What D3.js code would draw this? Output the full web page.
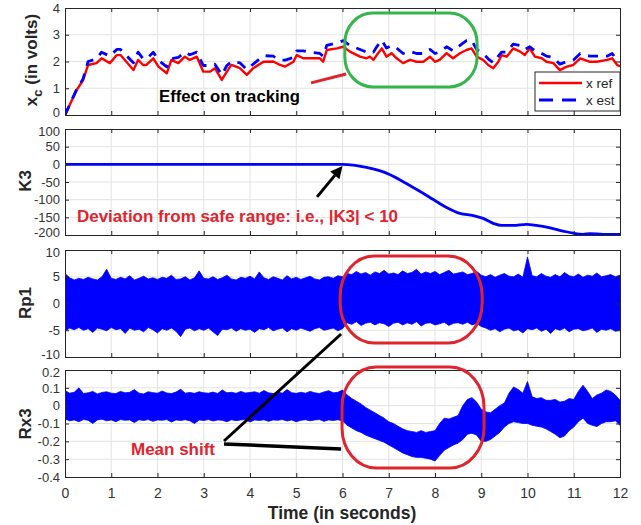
<!DOCTYPE html>
<html>
<head>
<meta charset="utf-8">
<script src="https://cdn.jsdelivr.net/npm/d3@7"></script>
<style>
body { margin: 0; background: #fff; }
svg { display: block; }
text { font-family: "Liberation Sans", Arial, sans-serif; }
</style>
</head>
<body>
<svg id="chart" width="641" height="525"></svg>
<script>
// ---- data ----
const timeTicks = [0, 1, 2, 3, 4, 5, 6, 7, 8, 9, 10, 11, 12];
const xcTicks = [0, 1, 2, 3, 4];
const k3Ticks = [-200, -150, -100, -50, 0, 50, 100];
const rp1Ticks = [-10, -5, 0, 5, 10];
const rx3Ticks = [-0.4, -0.3, -0.2, -0.1, 0, 0.1, 0.2];

// x ref [t, volts]
const xRef = [[0,0],[0.25,0.93],[0.39,1.3],[0.5,1.87],[0.68,1.94],[0.79,2.12],[0.97,1.94],[1.12,2.24],[1.2,2.24],
  [1.48,1.68],[1.58,2.06],[1.69,1.87],[1.76,1.87],[1.91,2.12],[2.02,1.81],[2.2,1.56],[2.3,2.06],[2.45,1.94],
  [2.59,2.18],[2.7,2.06],[2.85,2.18],[2.99,1.62],[3.14,1.62],[3.24,1.75],[3.39,1.31],[3.5,1.62],[3.57,1.81],
  [3.6,1.87],[3.78,1.75],[3.93,1.5],[4.07,1.75],[4.29,1.99],[4.5,2.0],[4.65,1.87],[4.76,1.81],[4.94,1.99],
  [5.01,2.24],[5.15,2.12],[5.3,2.12],[5.51,2.12],[5.58,1.99],[5.66,2.43],[5.88,2.49],[6.02,2.55],[6.16,2.37],
  [6.38,2.18],[6.52,2.12],[6.59,2.18],[6.67,2.06],[6.74,2.24],[6.85,2.49],[6.95,2.18],[7.06,2.31],[7.17,2.12],
  [7.31,1.94],[7.46,2.06],[7.6,1.99],[7.75,1.99],[7.89,2.18],[8.0,1.99],[8.1,2.06],[8.25,2.31],[8.39,2.12],
  [8.54,2.31],[8.68,2.43],[8.79,2.49],[8.9,2.18],[9.04,2.06],[9.15,1.87],[9.26,1.75],[9.37,1.99],[9.44,2.24],
  [9.55,2.18],[9.69,2.49],[9.84,2.37],[9.94,2.24],[10.05,2.49],[10.16,2.18],[10.31,2.12],[10.41,1.99],
  [10.56,1.94],[10.7,1.68],[10.85,1.81],[10.99,1.87],[11.14,2.12],[11.35,1.99],[11.5,1.99],[11.72,2.06],
  [11.83,2.12],[11.94,1.87],[12,1.81]];

// x est [t, volts]
const xEst = [[0,0],[0.25,0.95],[0.39,1.35],[0.5,2.0],[0.68,2.1],[0.79,2.35],[0.97,2.2],[1.12,2.45],[1.2,2.45],
  [1.48,1.95],[1.58,2.35],[1.69,2.1],[1.76,2.1],[1.91,2.35],[2.02,2.05],[2.2,1.8],[2.3,2.1],[2.45,2.15],
  [2.59,2.35],[2.7,2.25],[2.85,2.35],[2.99,1.85],[3.14,1.85],[3.24,1.9],[3.39,1.5],[3.5,1.85],[3.57,1.95],
  [3.6,2.0],[3.78,1.95],[3.93,1.7],[4.07,1.9],[4.29,2.22],[4.5,2.2],[4.65,2.05],[4.76,2.05],[4.94,2.15],
  [5.01,2.4],[5.15,2.4],[5.3,2.35],[5.51,2.3],[5.58,2.2],[5.66,2.6],[5.88,2.7],[6.02,2.78],[6.16,2.6],
  [6.38,2.45],[6.52,2.35],[6.59,2.4],[6.67,2.35],[6.74,2.55],[6.85,2.8],[6.95,2.5],[7.06,2.6],[7.17,2.5],
  [7.31,2.3],[7.46,2.38],[7.6,2.3],[7.75,2.3],[7.89,2.45],[8.0,2.3],[8.1,2.35],[8.25,2.55],[8.39,2.4],
  [8.54,2.6],[8.68,2.78],[8.79,2.8],[8.9,2.45],[9.04,2.3],[9.15,2.1],[9.26,1.95],[9.37,2.2],[9.44,2.35],
  [9.55,2.35],[9.69,2.65],[9.84,2.6],[9.94,2.45],[10.05,2.55],[10.16,2.4],[10.31,2.3],[10.41,2.2],
  [10.56,2.15],[10.7,1.9],[10.85,2.0],[10.99,2.05],[11.14,2.3],[11.35,2.2],[11.5,2.2],[11.72,2.2],
  [11.83,2.3],[11.94,2.05],[12,2.0]];

// K3 [t, value]
const k3 = [[0,0],[6.0,0],[6.23,-2],[6.59,-11],[6.95,-25],[7.31,-49],[7.68,-77],[8.04,-106],[8.25,-122],
  [8.54,-139],[8.83,-145],[9.04,-153],[9.26,-167],[9.44,-173],[9.69,-173],[9.98,-170],[10.19,-173],
  [10.49,-180],[10.77,-189],[10.99,-195],[11.2,-198],[11.35,-196],[11.63,-198],[12,-198]];

// residual envelopes, one value per 0.1 s from 0 to 12 s
const bandTimes = d3.range(121).map(i => i / 10);
const rp1Hi = [5.6,4.8,4.4,4.7,4.5,4.9,4.6,4.4,5.0,6.4,4.7,
  4.5,4.9,4.6,5.2,4.4,4.7,5.1,4.6,4.8,4.5,
  4.9,4.7,5.3,4.5,4.6,5.0,4.4,4.8,6.1,4.7,
  4.6,5.0,4.5,4.8,5.3,4.6,4.4,4.9,4.7,5.1,
  4.6,5.9,4.8,4.5,5.0,4.7,4.4,5.2,4.6,4.9,
  4.5,4.8,5.1,4.6,4.4,4.9,5.0,4.7,5.2,5.0,
  5.6,5.4,6.0,5.5,5.8,5.3,5.9,5.6,6.2,5.5,
  5.7,5.4,6.1,5.6,5.8,6.4,5.5,5.9,5.6,6.0,
  5.4,5.8,6.2,5.5,5.7,5.9,5.4,5.6,6.0,5.3,
  5.0,5.4,4.9,5.3,5.6,5.1,5.0,5.5,4.9,8.7,
  5.2,5.0,5.6,5.1,4.9,5.4,5.0,5.8,5.2,5.0,
  5.5,4.9,5.3,5.1,5.7,5.0,5.2,5.4,5.0,5.3];
const rp1Lo = [-5.2,-4.6,-4.9,-4.5,-5.0,-4.7,-5.4,-4.6,-4.8,-5.1,-4.5,
  -4.9,-4.7,-5.6,-4.6,-5.0,-4.8,-5.3,-4.5,-4.9,-5.5,
  -4.7,-5.0,-4.6,-5.2,-6.2,-4.8,-4.6,-5.1,-4.7,-5.0,
  -4.6,-5.3,-6.0,-4.8,-4.9,-4.6,-5.2,-4.7,-5.0,-4.8,
  -5.4,-4.7,-4.9,-4.5,-5.1,-4.8,-4.6,-5.3,-4.7,-5.0,
  -4.6,-4.9,-5.2,-4.7,-4.5,-5.0,-4.8,-4.6,-5.1,-4.7,
  -3.6,-3.9,-3.4,-4.1,-3.7,-3.5,-4.0,-3.6,-3.8,-4.3,
  -3.7,-3.5,-4.0,-3.6,-3.9,-3.4,-4.2,-3.7,-3.6,-4.0,
  -3.8,-3.5,-4.1,-3.7,-3.6,-3.9,-3.5,-4.0,-3.7,-4.3,
  -4.6,-5.0,-4.7,-5.3,-4.8,-4.6,-5.1,-4.9,-5.5,-4.7,
  -4.9,-4.6,-5.2,-4.8,-5.6,-4.7,-5.0,-4.6,-5.3,-4.8,
  -4.7,-5.1,-4.9,-4.6,-5.4,-4.8,-5.0,-4.7,-5.2,-4.9];
const rx3Hi = [0.085,0.07,0.075,0.1,0.068,0.072,0.08,0.066,0.074,0.078,0.07,
  0.068,0.08,0.072,0.075,0.09,0.07,0.066,0.078,0.073,0.07,
  0.082,0.071,0.068,0.076,0.092,0.07,0.074,0.069,0.078,0.072,
  0.07,0.076,0.068,0.088,0.072,0.075,0.069,0.08,0.071,0.074,
  0.078,0.07,0.085,0.072,0.068,0.076,0.07,0.09,0.073,0.069,
  0.075,0.07,0.08,0.072,0.068,0.077,0.084,0.072,0.075,0.088,
  0.06,0.04,0.025,0.01,-0.01,-0.025,-0.04,-0.055,-0.07,-0.09,
  -0.1,-0.115,-0.13,-0.14,-0.145,-0.15,-0.14,-0.15,-0.145,-0.14,
  -0.1,-0.07,-0.075,-0.065,-0.055,0.0,0.035,0.045,0.02,-0.02,
  -0.035,-0.04,-0.02,0.0,0.015,0.07,0.105,0.09,0.07,0.135,
  0.05,0.04,0.045,0.03,0.03,0.035,0.02,0.025,0.04,0.035,
  0.08,0.115,0.08,0.04,0.06,0.07,0.088,0.08,0.06,0.03];
const rx3Lo = [-0.075,-0.085,-0.08,-0.09,-0.078,-0.082,-0.1,-0.08,-0.076,-0.085,-0.08,
  -0.09,-0.078,-0.082,-0.08,-0.095,-0.079,-0.083,-0.078,-0.088,-0.08,
  -0.082,-0.078,-0.092,-0.08,-0.083,-0.079,-0.085,-0.1,-0.08,-0.083,
  -0.078,-0.086,-0.08,-0.082,-0.09,-0.079,-0.084,-0.08,-0.078,-0.092,
  -0.08,-0.083,-0.079,-0.088,-0.08,-0.082,-0.078,-0.086,-0.08,-0.09,
  -0.082,-0.079,-0.085,-0.08,-0.078,-0.088,-0.08,-0.083,-0.079,-0.085,
  -0.11,-0.125,-0.14,-0.15,-0.165,-0.175,-0.185,-0.195,-0.205,-0.22,
  -0.235,-0.25,-0.265,-0.275,-0.285,-0.29,-0.29,-0.295,-0.3,-0.31,
  -0.28,-0.25,-0.235,-0.22,-0.21,-0.19,-0.16,-0.155,-0.165,-0.2,
  -0.2,-0.19,-0.17,-0.15,-0.12,-0.1,-0.09,-0.095,-0.1,-0.1,
  -0.11,-0.115,-0.12,-0.13,-0.145,-0.16,-0.18,-0.17,-0.14,-0.12,
  -0.09,-0.07,-0.1,-0.11,-0.117,-0.1,-0.09,-0.09,-0.085,-0.11];

// ---- layout ----
const svg = d3.select('#chart');
const axisColor = '#262626';
const gridColor = '#e3e3e3';
const blue = '#0000ff';
const red = '#ff0000';
const annRed = '#e0242e';
const left = 65, right = 620;

const x = d3.scaleLinear().domain([0, 12]).range([left, right]);

const panels = [
  { id: 'xc', top: 8, bottom: 115, domain: [0, 4], ticks: xcTicks },
  { id: 'k3', top: 129, bottom: 235, domain: [-200, 100], ticks: k3Ticks },
  { id: 'rp1', top: 250, bottom: 357, domain: [-10, 10], ticks: rp1Ticks },
  { id: 'rx3', top: 370, bottom: 477, domain: [-0.4, 0.2], ticks: rx3Ticks }
];
panels.forEach(p => { p.y = d3.scaleLinear().domain(p.domain).range([p.bottom, p.top]); });

const fmt = d => String(Math.round(d * 10) / 10);

svg.append('rect').attr('width', 641).attr('height', 525).attr('fill', '#fff');
const defs = svg.append('defs');

panels.forEach((p, i) => {
  const g = svg.append('g').attr('class', 'panel_' + p.id);
  defs.append('clipPath').attr('id', 'clip_' + p.id)
    .append('rect').attr('x', left).attr('y', p.top).attr('width', right - left).attr('height', p.bottom - p.top);

  // grid
  const grid = g.append('g').attr('stroke', gridColor).attr('stroke-width', 1);
  grid.selectAll('.vg').data(timeTicks.slice(1, -1)).join('line')
    .attr('x1', d => x(d)).attr('x2', d => x(d)).attr('y1', p.top).attr('y2', p.bottom);
  grid.selectAll('.hg').data(p.ticks.slice(1, -1)).join('line')
    .attr('x1', left).attr('x2', right).attr('y1', d => p.y(d)).attr('y2', d => p.y(d));

  p.plot = g.append('g').attr('clip-path', 'url(#clip_' + p.id + ')');
  p.g = g;
});

// panel 1: x ref / x est
{
  const p = panels[0];
  const line = d3.line().x(d => x(d[0])).y(d => p.y(d[1]));
  p.plot.append('path').datum(xRef).attr('d', line)
    .attr('fill', 'none').attr('stroke', red).attr('stroke-width', 2.4).attr('stroke-linejoin', 'round');
  p.plot.append('path').datum(xEst).attr('d', line)
    .attr('fill', 'none').attr('stroke', blue).attr('stroke-width', 2.8)
    .attr('stroke-dasharray', '10,8').attr('stroke-linejoin', 'round');
}

// panel 2: K3
{
  const p = panels[1];
  const line = d3.line().x(d => x(d[0])).y(d => p.y(d[1])).curve(d3.curveMonotoneX);
  p.plot.append('path').datum(k3).attr('d', line)
    .attr('fill', 'none').attr('stroke', blue).attr('stroke-width', 2.8);
}

// panels 3 and 4: residual bands
[[panels[2], rp1Hi, rp1Lo], [panels[3], rx3Hi, rx3Lo]].forEach(([p, hi, lo]) => {
  const rows = bandTimes.map((t, i) => ({ t, hi: hi[i], lo: lo[i] }));
  const area = d3.area().x(d => x(d.t)).y0(d => p.y(d.lo)).y1(d => p.y(d.hi));
  p.plot.append('path').datum(rows).attr('d', area)
    .attr('fill', blue).attr('stroke', blue).attr('stroke-width', 0.8);
});

// axes boxes with inward ticks
panels.forEach((p, i) => {
  const isLast = i === panels.length - 1;
  const ax = p.g.append('g').attr('color', axisColor);
  const yl = ax.append('g').attr('transform', `translate(${left},0)`)
    .call(d3.axisLeft(p.y).tickValues(p.ticks).tickSize(-4).tickPadding(5).tickFormat(fmt));
  yl.selectAll('text').attr('font-size', 13).attr('font-family', '"Liberation Sans", Arial, sans-serif').attr('fill', '#333');
  // keep the stacked end labels of neighbouring panels from colliding
  const [lo, hi] = p.domain;
  yl.selectAll('.tick').filter(d => d === lo && i < panels.length - 1).select('text').attr('dy', '0.1em');
  yl.selectAll('.tick').filter(d => d === hi && i > 0).select('text').attr('dy', '0.5em');
  ax.append('g').attr('transform', `translate(${right},0)`)
    .call(d3.axisRight(p.y).tickValues(p.ticks).tickSize(-4).tickFormat(''));
  ax.append('g').attr('transform', `translate(0,${p.top})`)
    .call(d3.axisTop(x).tickValues(timeTicks).tickSize(-4).tickFormat(''));
  const xb = ax.append('g').attr('transform', `translate(0,${p.bottom})`)
    .call(d3.axisBottom(x).tickValues(timeTicks).tickSize(-4).tickPadding(11).tickFormat(isLast ? fmt : ''));
  xb.selectAll('text').attr('font-size', 14).attr('font-family', '"Liberation Sans", Arial, sans-serif').attr('fill', '#333');
  ax.selectAll('.domain').attr('stroke-width', 1);
});

// y labels
const ylab = (cx, cy) => svg.append('text')
  .attr('transform', `translate(${cx},${cy}) rotate(-90)`)
  .attr('text-anchor', 'middle').attr('font-size', 17).attr('font-weight', 'bold').attr('fill', '#262626');
{
  const t = ylab(37, 60);
  t.append('tspan').text('x');
  t.append('tspan').text('c').attr('font-size', 13).attr('dy', 5);
  t.append('tspan').text(' (in volts)').attr('dy', -5);
}
ylab(31, 181).text('K3');
ylab(31, 303).text('Rp1');
ylab(31, 424).text('Rx3');

svg.append('text').attr('x', 342).attr('y', 519).attr('text-anchor', 'middle')
  .attr('font-size', 17.5).attr('font-weight', 'bold').attr('fill', '#262626').text('Time (in seconds)');

// legend
{
  const lg = svg.append('g');
  lg.append('rect').attr('x', 535).attr('y', 72).attr('width', 85).attr('height', 39)
    .attr('fill', '#fff').attr('stroke', axisColor).attr('stroke-width', 1);
  lg.append('line').attr('x1', 539).attr('x2', 582).attr('y1', 83).attr('y2', 83)
    .attr('stroke', red).attr('stroke-width', 2.4);
  lg.append('line').attr('x1', 539).attr('x2', 582).attr('y1', 100).attr('y2', 100)
    .attr('stroke', blue).attr('stroke-width', 2.8).attr('stroke-dasharray', '14,9');
  lg.append('text').attr('x', 586).attr('y', 88).attr('font-size', 13.5).attr('fill', '#262626').text('x ref');
  lg.append('text').attr('x', 586).attr('y', 105).attr('font-size', 13.5).attr('fill', '#262626').text('x est');
}

// ---- annotations ----
const p1 = panels[0], p2 = panels[1], p3 = panels[2], p4 = panels[3];
const roundBox = (p, t0, t1, v0, v1, color, rx, ry) => svg.append('rect')
  .attr('x', x(t0)).attr('y', p.y(v1)).attr('width', x(t1) - x(t0)).attr('height', p.y(v0) - p.y(v1))
  .attr('rx', rx).attr('ry', ry).attr('fill', 'none').attr('stroke', color).attr('stroke-width', 3);

roundBox(p1, 6.05, 8.91, 1.05, 3.81, '#35b64c', 28, 30);
roundBox(p3, 5.95, 9.02, -7.38, 8.88, annRed, 34, 40);
roundBox(p4, 5.99, 9.06, -0.349, 0.217, annRed, 34, 40);

// effect on tracking
svg.append('line').attr('x1', x(5.32)).attr('y1', p1.y(1.2)).attr('x2', x(6.08)).attr('y2', p1.y(1.53))
  .attr('stroke', annRed).attr('stroke-width', 3);
svg.append('text').attr('x', 159).attr('y', 102).attr('font-size', 16).attr('font-weight', 'bold')
  .attr('textLength', 141).attr('lengthAdjust', 'spacingAndGlyphs').attr('fill', '#000').text('Effect on tracking');

// K3 arrow
{
  const x1 = x(5.45), y1 = p2.y(-92), x2 = x(6.0), y2 = p2.y(-5);
  const ang = Math.atan2(y2 - y1, x2 - x1);
  const hl = 12, hw = 6;
  const bx = x2 - hl * Math.cos(ang), by = y2 - hl * Math.sin(ang);
  svg.append('line').attr('x1', x1).attr('y1', y1).attr('x2', bx).attr('y2', by)
    .attr('stroke', '#000').attr('stroke-width', 3);
  svg.append('path')
    .attr('d', `M${x2},${y2}L${bx + hw * Math.sin(ang)},${by - hw * Math.cos(ang)}L${bx - hw * Math.sin(ang)},${by + hw * Math.cos(ang)}Z`)
    .attr('fill', '#000');
}
svg.append('text').attr('x', 77).attr('y', 222).attr('font-size', 16).attr('font-weight', 'bold')
  .attr('textLength', 321).attr('lengthAdjust', 'spacingAndGlyphs').attr('fill', annRed)
  .text('Deviation from safe range: i.e., |K3| < 10');

// mean shift
{
  const sx = 224, sy = 443;
  svg.append('line').attr('x1', sx).attr('y1', sy - 2).attr('x2', x(5.97)).attr('y2', p3.y(-5.7))
    .attr('stroke', '#000').attr('stroke-width', 3);
  svg.append('line').attr('x1', sx).attr('y1', sy + 1).attr('x2', x(5.97)).attr('y2', p4.y(-0.243))
    .attr('stroke', '#000').attr('stroke-width', 3.5);
  svg.append('text').attr('x', 131).attr('y', 455).attr('font-size', 16).attr('font-weight', 'bold')
    .attr('textLength', 84).attr('lengthAdjust', 'spacingAndGlyphs').attr('fill', annRed).text('Mean shift');
}
</script>
</body>
</html>
